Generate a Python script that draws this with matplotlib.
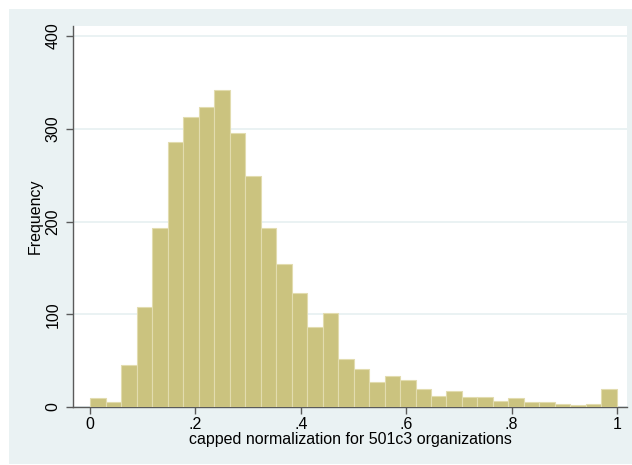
import numpy as np
import matplotlib.pyplot as plt
from matplotlib.patches import Rectangle

# bin counts (34 equal bins from 0 to 1)
counts = [10, 5, 45, 108, 193, 286, 313, 323, 342, 295,
          249, 193, 154, 123, 86, 101, 52, 41, 27, 33,
          29, 19, 12, 17, 11, 11, 6, 10, 5, 5,
          3, 2, 3, 19]
x_ticks = [0, 0.2, 0.4, 0.6, 0.8, 1.0]
x_ticklabels = ['0', '.2', '.4', '.6', '.8', '1']
y_ticks = [0, 100, 200, 300, 400]
y_ticklabels = ['0', '100', '200', '300', '400']

plt.rcParams['font.family'] = ['Liberation Sans', 'DejaVu Sans']

bg = '#EAF2F3'
bar_face = '#CBC37F'
bar_edge = '#E2DCAF'

fig = plt.figure(figsize=(6.32, 4.65), dpi=100)
fig.patch.set_facecolor('white')
# stata-style graph region
fig.patches.append(Rectangle((9 / 632, 1 / 465), 623 / 632, 455 / 465,
                             transform=fig.transFigure, facecolor=bg,
                             edgecolor='none', zorder=-10))

ax = fig.add_axes([73 / 632, 58 / 465, 554 / 632, 381 / 465])
ax.set_facecolor('white')

edges = np.linspace(0, 1, len(counts) + 1)
ax.bar(edges[:-1], counts, width=np.diff(edges), align='edge',
       color=bar_face, edgecolor=bar_edge, linewidth=0.8, zorder=3)

ax.set_xlim(-0.0323, 1.019)
ax.set_ylim(0, 410.8)

ax.set_yticks(y_ticks)
ax.set_yticklabels(y_ticklabels)
ax.set_xticks(x_ticks)
ax.set_xticklabels(x_ticklabels)
plt.setp(ax.get_yticklabels(), rotation=90, va='center')

ax.yaxis.grid(True, color=bg, linewidth=1.4, zorder=0)
ax.set_axisbelow(True)

for s in ['top', 'right']:
    ax.spines[s].set_visible(False)
for s in ['left', 'bottom']:
    ax.spines[s].set_color('#5a5a5a')
    ax.spines[s].set_linewidth(1.0)

ax.tick_params(axis='both', direction='out', length=5, width=1.0,
               color='#5a5a5a', labelsize=11.5, labelcolor='black', pad=2)
ax.tick_params(axis='y', pad=4)

ax.set_xlabel('capped normalization for 501c3 organizations', fontsize=11.5, labelpad=0)
ax.set_ylabel('Frequency', fontsize=11.5, labelpad=2)

fig.savefig('out.png', dpi=100, facecolor=fig.get_facecolor())
